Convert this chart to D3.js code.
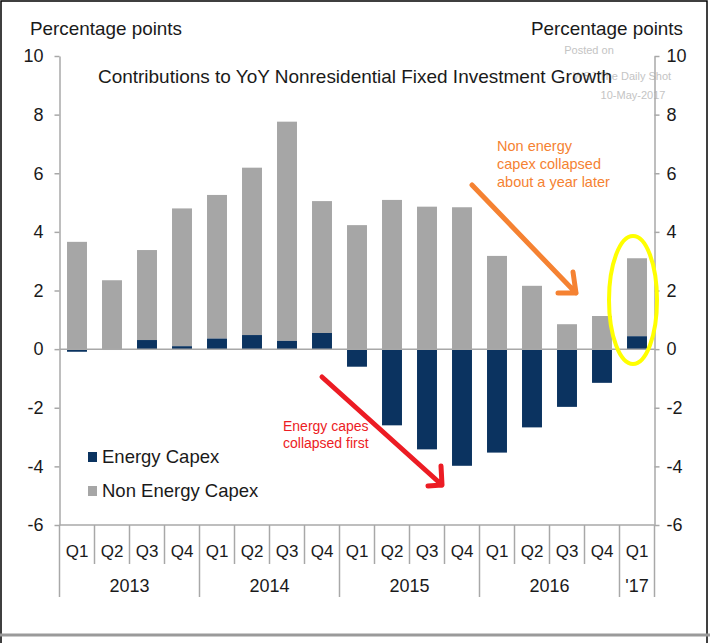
<!DOCTYPE html>
<html><head><meta charset="utf-8">
<script src="https://cdnjs.cloudflare.com/ajax/libs/d3/7.8.5/d3.min.js"></script>
<style>
html,body{margin:0;padding:0;background:#fff;}
svg{display:block;}
text{font-family:"Liberation Sans",Arial,sans-serif;}
</style></head>
<body>
<svg id="c" width="710" height="643"></svg>
<script>
const quarters = ["Q1","Q2","Q3","Q4","Q1","Q2","Q3","Q4","Q1","Q2","Q3","Q4","Q1","Q2","Q3","Q4","Q1"];
const years = ["2013","2014","2015","2016","'17"];
const yearSpans = [4,4,4,4,1];
const energy = [-0.09,-0.03,0.31,0.10,0.36,0.48,0.28,0.55,-0.60,-2.60,-3.42,-3.98,-3.53,-2.67,-1.97,-1.15,0.44];
const nonEnergy = [3.66,2.35,3.07,4.70,4.90,5.71,7.48,4.50,4.23,5.09,4.86,4.84,3.18,2.16,0.85,1.13,2.66];
const yTicks = [-6,-4,-2,0,2,4,6,8,10];

const ids = quarters.map((q,i)=>i);
const svg = d3.select("#c");
const x = d3.scaleBand().domain(ids).range([59.5,654.5]).paddingInner(0.43).paddingOuter(0.215);
const y = d3.scaleLinear().domain([-6,10]).range([525,56]);
const axisCol = "#a8a8a8", txtCol = "#1a1a1a";
const navy = "#0b3360", grey = "#a6a6a6";

// frame
svg.append("rect").attr("x",1).attr("y",1).attr("width",706).attr("height",650).attr("fill","none").attr("stroke","#000").attr("stroke-width",1.5);
svg.append("line").attr("x1",0).attr("x2",710).attr("y1",635).attr("y2",635).attr("stroke","#9a9a9a").attr("stroke-width",3);

// watermark
const wm = svg.append("g").attr("fill","#c4c4c4").attr("font-size",11);
wm.append("text").attr("x",589).attr("y",54).attr("text-anchor","middle").text("Posted on");
wm.append("text").attr("x",622).attr("y",80).attr("text-anchor","middle").text("WSJ The Daily Shot");
wm.append("text").attr("x",633).attr("y",99).attr("text-anchor","middle").text("10-May-2017");

// bars
const data = ids.map(i=>({i, e:energy[i], n:nonEnergy[i]}));
const g = svg.append("g");
g.selectAll("rect.n").data(data).join("rect").attr("class","n")
  .attr("x",d=>x(d.i)).attr("width",x.bandwidth())
  .attr("y",d=>y(Math.max(d.e,0)+d.n)).attr("height",d=>y(Math.max(d.e,0))-y(Math.max(d.e,0)+d.n))
  .attr("fill",grey);
g.selectAll("rect.e").data(data).join("rect").attr("class","e")
  .attr("x",d=>x(d.i)).attr("width",x.bandwidth())
  .attr("y",d=>y(Math.max(d.e,0))).attr("height",d=>Math.abs(y(d.e)-y(0)))
  .attr("fill",navy);

// zero line
svg.append("line").attr("x1",59.5).attr("x2",654.5).attr("y1",y(0)).attr("y2",y(0)).attr("stroke",axisCol).attr("stroke-width",1.5);

// y axes
const fmt = d => String(d);
function styleAxis(sel){
  sel.select(".domain").attr("stroke",axisCol).attr("stroke-width",1.5);
  sel.selectAll(".tick line").attr("stroke",axisCol).attr("stroke-width",1.5);
  sel.selectAll(".tick text").attr("fill",txtCol).attr("font-size",18).attr("font-family","Liberation Sans, Arial, sans-serif");
}
const yl = svg.append("g").attr("transform","translate(59.5,0)")
  .call(d3.axisLeft(y).tickValues(yTicks).tickFormat(fmt).tickSize(5).tickSizeOuter(0).tickPadding(11));
styleAxis(yl);
const yr = svg.append("g").attr("transform","translate(654.5,0)")
  .call(d3.axisRight(y).tickValues(yTicks).tickFormat(fmt).tickSize(5).tickSizeOuter(0).tickPadding(7));
styleAxis(yr);

// bottom axis line
svg.append("line").attr("x1",59.5).attr("x2",654.5).attr("y1",y(-6)).attr("y2",y(-6)).attr("stroke",axisCol).attr("stroke-width",1.5);

// category axis
const step = x.step();
const x0 = x.range()[0];
const cat = svg.append("g");
ids.forEach(i=>{
  cat.append("text").attr("x",x(i)+x.bandwidth()/2).attr("y",557).attr("text-anchor","middle")
    .attr("font-size",17).attr("fill",txtCol).text(quarters[i]);
});
let cum = 0;
const yearStarts = [0];
yearSpans.forEach(s=>{cum+=s; yearStarts.push(cum);});
for(let k=0;k<=quarters.length;k++){
  const isYear = yearStarts.includes(k);
  const xx = x0 + k*step;
  cat.append("line").attr("x1",xx).attr("x2",xx).attr("y1",y(-6)).attr("y2",isYear?597:564)
    .attr("stroke",axisCol).attr("stroke-width",1.5);
}
years.forEach((yv,k)=>{
  const a = x0 + yearStarts[k]*step, b = x0 + yearStarts[k+1]*step;
  cat.append("text").attr("x",(a+b)/2).attr("y",592).attr("text-anchor","middle")
    .attr("font-size",18).attr("fill",txtCol).text(yv);
});

// labels
svg.append("text").attr("x",30).attr("y",35).attr("font-size",18.5).attr("fill",txtCol)
  .attr("textLength",152).attr("lengthAdjust","spacingAndGlyphs").text("Percentage points");
svg.append("text").attr("x",531).attr("y",35).attr("font-size",18.5).attr("fill",txtCol)
  .attr("textLength",152).attr("lengthAdjust","spacingAndGlyphs").text("Percentage points");
svg.append("text").attr("x",98).attr("y",83).attr("font-size",18.5).attr("fill",txtCol)
  .attr("textLength",514).attr("lengthAdjust","spacingAndGlyphs")
  .text("Contributions to YoY Nonresidential Fixed Investment Growth");

// legend
const leg = [{t:"Energy Capex",c:navy,yy:457},{t:"Non Energy Capex",c:grey,yy:491}];
leg.forEach(l=>{
  svg.append("rect").attr("x",88).attr("y",l.yy-5).attr("width",9).attr("height",10).attr("fill",l.c);
  svg.append("text").attr("x",102).attr("y",l.yy+6).attr("font-size",18.5).attr("fill",txtCol).text(l.t);
});

// annotations
const orange = "#f58232", red = "#ec1c24";
const ann = svg.append("g").attr("font-family","Lato, 'Open Sans', sans-serif");
["Non energy","capex collapsed","about a year later"].forEach((t,k)=>{
  ann.append("text").attr("x",497).attr("y",151+k*18).attr("font-size",14.5).attr("fill",orange).text(t);
});
["Energy capes","collapsed first"].forEach((t,k)=>{
  ann.append("text").attr("x",283).attr("y",431+k*17).attr("font-size",14).attr("fill",red).text(t);
});
function arrow(x1,y1,x2,y2,col,ax,ay,bx,by){
  const p = `M${x1},${y1}L${x2},${y2}M${ax},${ay}L${x2},${y2}L${bx},${by}`;
  svg.append("path").attr("d",p).attr("fill","none").attr("stroke",col).attr("stroke-width",5)
    .attr("stroke-linecap","round").attr("stroke-linejoin","round");
}
arrow(472,185,576,293,orange,573,272,558,293);
arrow(322,377,442,485,red,441,466,428,486);

// yellow ellipse
svg.append("ellipse").attr("cx",633).attr("cy",300).attr("rx",24).attr("ry",64)
  .attr("fill","none").attr("stroke","#ffff00").attr("stroke-width",4);
</script>
</body></html>
